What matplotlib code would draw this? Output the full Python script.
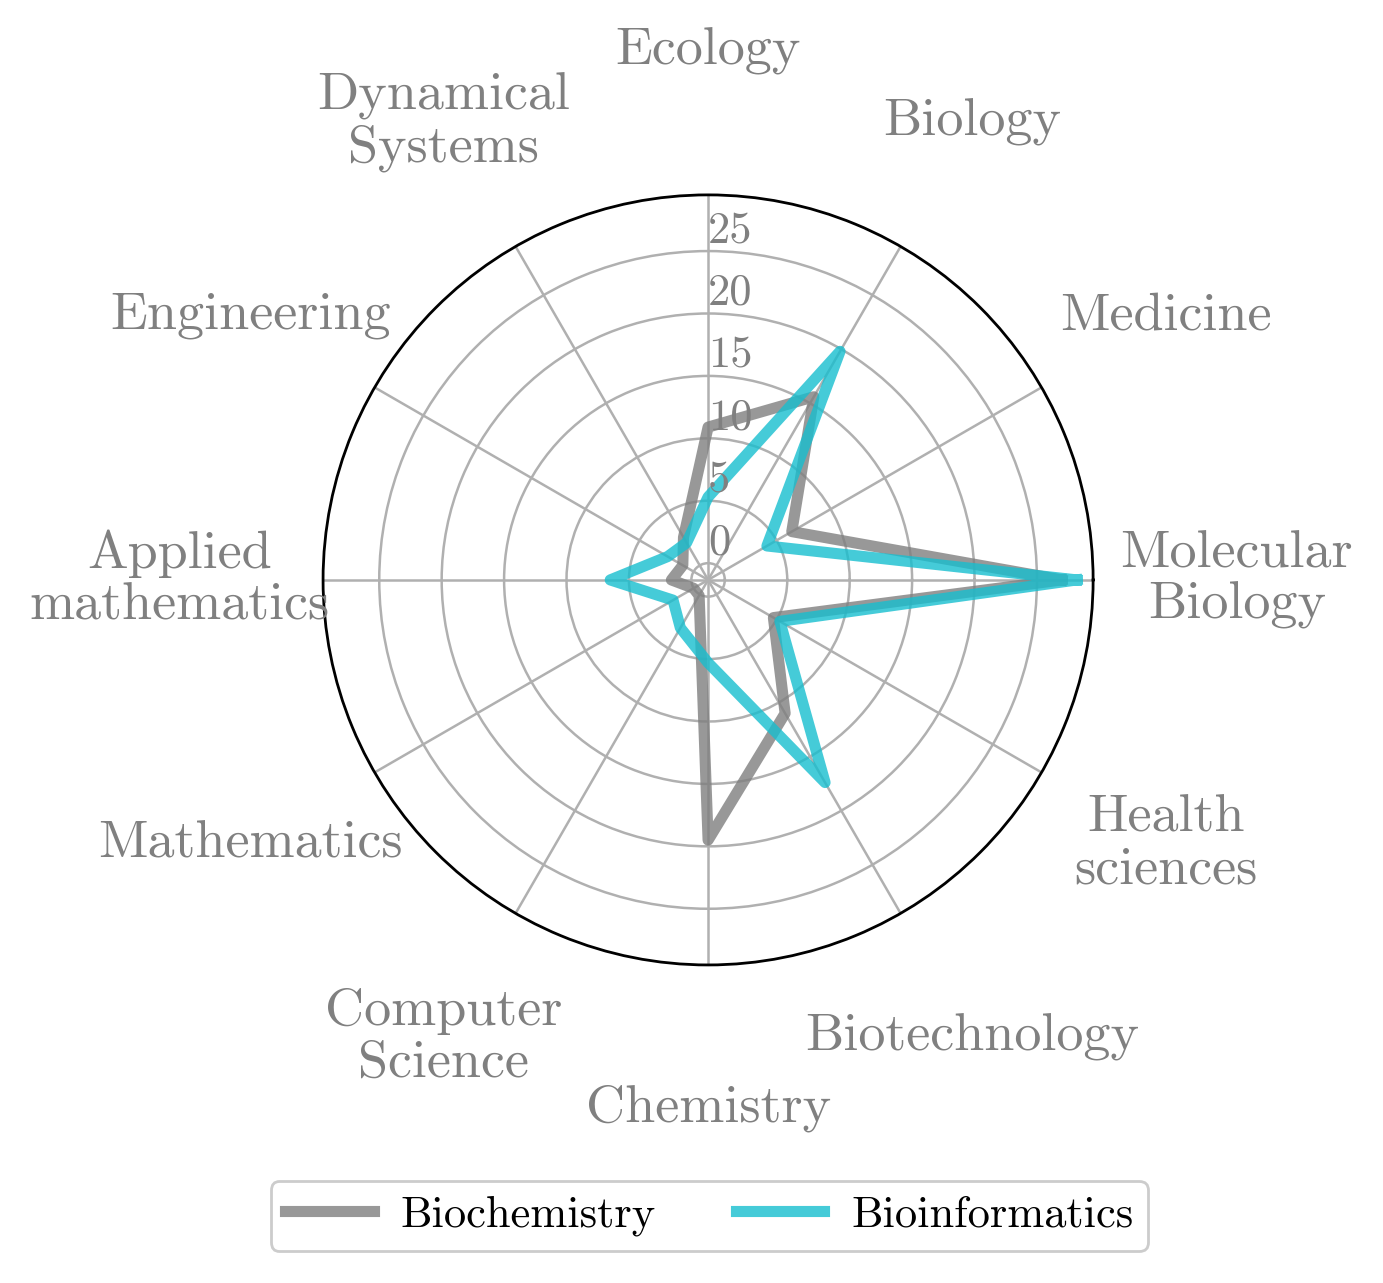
import numpy as np
from matplotlib import pyplot as plt

plt.rcParams['font.family'] = ['cmr10', 'DejaVu Serif']
plt.rcParams['mathtext.fontset'] = 'cm'
plt.rcParams['axes.formatter.use_mathtext'] = True

categories = ['Molecular\nBiology', 'Medicine', 'Biology', 'Ecology',
              'Dynamical\nSystems', 'Engineering', 'Applied\nmathematics',
              'Mathematics', 'Computer\nScience', 'Chemistry',
              'Biotechnology', 'Health\nsciences']
biochemistry = [27.0, 6.4, 15.6, 10.9, 2.6, 1.0, 1.6, 0.0, 0.1, 19.5, 11.0, 4.7]
bioinformatics = [28.2, 4.1, 19.8, 5.3, 2.1, 2.4, 6.5, 1.9, 3.1, 5.3, 17.4, 5.3]
rticks = [0, 5, 10, 15, 20, 25]

n = len(categories)
angles = np.linspace(0, 2 * np.pi, n, endpoint=False)
ang_closed = np.append(angles, angles[0])

fig = plt.figure(figsize=(6.915, 6.415), dpi=200)
ax = fig.add_axes([0.2336, 0.2479, 0.5568, 0.6002], projection='polar')

ax.plot(ang_closed, biochemistry + biochemistry[:1], color='tab:gray',
        alpha=0.8, lw=4.0, label='Biochemistry')
ax.plot(ang_closed, bioinformatics + bioinformatics[:1], color='tab:cyan',
        alpha=0.8, lw=4.0, label='Bioinformatics')

ax.set_ylim(-1.34, 29.5)
ax.set_yticks(rticks)
ax.set_yticklabels([])
ax.set_xticks(angles)
ax.set_xticklabels([])
ax.grid(True, color='#b0b0b0', lw=0.9)
ax.spines['polar'].set_linewidth(1.0)
ax.spines['polar'].set_color('black')

for r in rticks:
    ax.text(np.pi / 2, r + 0.0, str(r), ha='left', va='bottom',
            color='gray', fontsize=16)

for a, lab in zip(angles, categories):
    ax.text(a, 41.0, lab, ha='center', va='center', color='gray',
            fontsize=19.5, linespacing=1.12, clip_on=False)

fig.legend(loc='lower center', bbox_to_anchor=(0.5127, 0.008), ncol=2,
           fontsize=16, handlelength=2.0, handletextpad=0.6,
           columnspacing=1.8, borderpad=0.32, edgecolor='#cccccc',
           framealpha=1)

fig.savefig('out.png', dpi=200)
